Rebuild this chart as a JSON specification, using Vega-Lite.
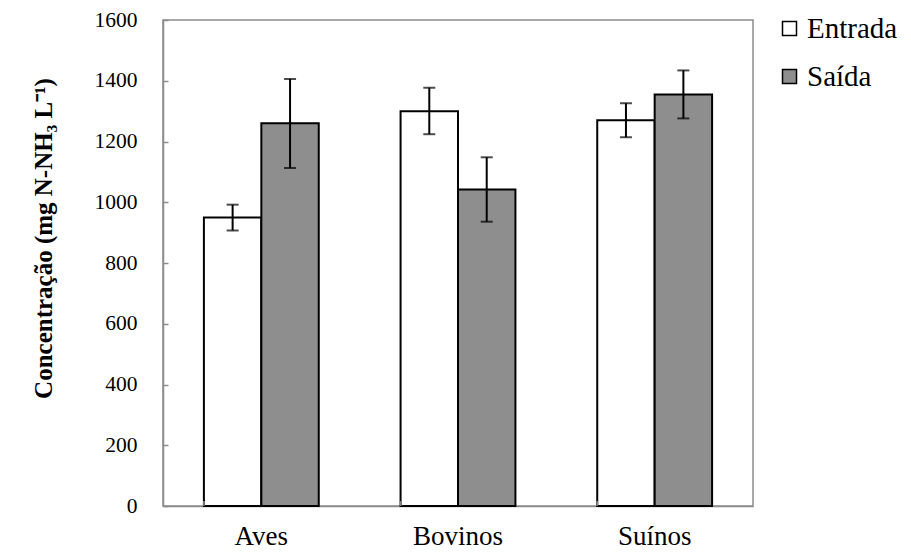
{
  "$schema": "https://vega.github.io/schema/vega-lite/v6.json",
  "width": 590,
  "height": 486,
  "autosize": "none",
  "padding": {"left": 163, "top": 20, "right": 158, "bottom": 46},
  "background": "white",
  "config": {
    "font": "Liberation Serif",
    "view": {"stroke": "#8c8c8c", "strokeWidth": 1.5},
    "axis": {
      "labelFont": "Liberation Serif",
      "titleFont": "Liberation Serif",
      "labelColor": "black",
      "titleColor": "black",
      "domainColor": "#8c8c8c",
      "domainWidth": 1.5,
      "tickColor": "#8c8c8c",
      "tickWidth": 1.5,
      "grid": false
    },
    "legend": {"labelFont": "Liberation Serif", "labelColor": "black"}
  },
  "data": {
    "values": [
      {"cat": "Aves", "serie": "Entrada", "valor": 950, "lo": 907, "hi": 992},
      {"cat": "Aves", "serie": "Saída", "valor": 1260, "lo": 1113, "hi": 1406},
      {"cat": "Bovinos", "serie": "Entrada", "valor": 1300, "lo": 1224, "hi": 1377},
      {"cat": "Bovinos", "serie": "Saída", "valor": 1042, "lo": 936, "hi": 1148},
      {"cat": "Suínos", "serie": "Entrada", "valor": 1270, "lo": 1214, "hi": 1326},
      {"cat": "Suínos", "serie": "Saída", "valor": 1355, "lo": 1276, "hi": 1434}
    ]
  },
  "encoding": {
    "x": {
      "field": "cat",
      "type": "nominal",
      "sort": ["Aves", "Bovinos", "Suínos"],
      "scale": {"paddingInner": 0.416, "paddingOuter": 0.208},
      "axis": {
        "title": null,
        "ticks": false,
        "labelAngle": 0,
        "labelFont": "Liberation Serif",
        "labelFontSize": 27,
        "labelPadding": 17
      }
    }
  },
  "layer": [
    {
      "mark": {"type": "bar", "stroke": "black", "strokeWidth": 2},
      "encoding": {
        "xOffset": {"field": "serie", "type": "nominal", "sort": ["Entrada", "Saída"], "scale": {"paddingInner": 0, "paddingOuter": 0}},
        "y": {
          "field": "valor",
          "type": "quantitative",
          "scale": {"domain": [0, 1600], "nice": false},
          "axis": {
            "values": [0, 200, 400, 600, 800, 1000, 1200, 1400, 1600],
            "format": "d",
            "tickSize": -5,
            "labelPadding": 31,
            "labelFont": "Liberation Serif",
            "labelFontSize": 21.5,
            "title": "Concentração (mg N-NH₃ L⁻¹)",
            "titleFont": "Liberation Serif",
            "titleFontSize": 25,
            "titleFontWeight": "bold",
            "titleY": 218,
            "titleX": -107
          }
        },
        "fill": {
          "field": "serie",
          "type": "nominal",
          "sort": ["Entrada", "Saída"],
          "scale": {"domain": ["Entrada", "Saída"], "range": ["white", "#8e8e8e"]},
          "legend": {
            "title": null,
            "orient": "none",
            "legendX": 612,
            "legendY": -6,
            "padding": 0,
            "symbolType": "square",
            "symbolSize": 196,
            "symbolStrokeColor": "black",
            "symbolStrokeWidth": 1.5,
            "labelFont": "Liberation Serif",
            "labelFontSize": 29,
            "labelOffset": 3,
            "rowPadding": 18
          }
        }
      }
    },
    {
      "mark": {"type": "rule", "color": "black", "strokeWidth": 2},
      "encoding": {
        "xOffset": {"field": "serie", "type": "nominal", "sort": ["Entrada", "Saída"]},
        "y": {"field": "lo", "type": "quantitative"},
        "y2": {"field": "hi"}
      }
    },
    {
      "mark": {"type": "tick", "orient": "horizontal", "color": "black", "size": 12, "thickness": 2},
      "encoding": {
        "xOffset": {"field": "serie", "type": "nominal", "sort": ["Entrada", "Saída"]},
        "y": {"field": "lo", "type": "quantitative"}
      }
    },
    {
      "mark": {"type": "tick", "orient": "horizontal", "color": "black", "size": 12, "thickness": 2},
      "encoding": {
        "xOffset": {"field": "serie", "type": "nominal", "sort": ["Entrada", "Saída"]},
        "y": {"field": "hi", "type": "quantitative"}
      }
    },
    {
      "mark": {"type": "tick", "orient": "vertical", "color": "#8c8c8c", "size": 5, "thickness": 1.5, "yOffset": -2.5},
      "encoding": {
        "x": {"field": "cat", "type": "nominal", "sort": ["Aves", "Bovinos", "Suínos"], "bandPosition": 0},
        "y": {"datum": 0, "type": "quantitative"}
      }
    }
  ]
}
